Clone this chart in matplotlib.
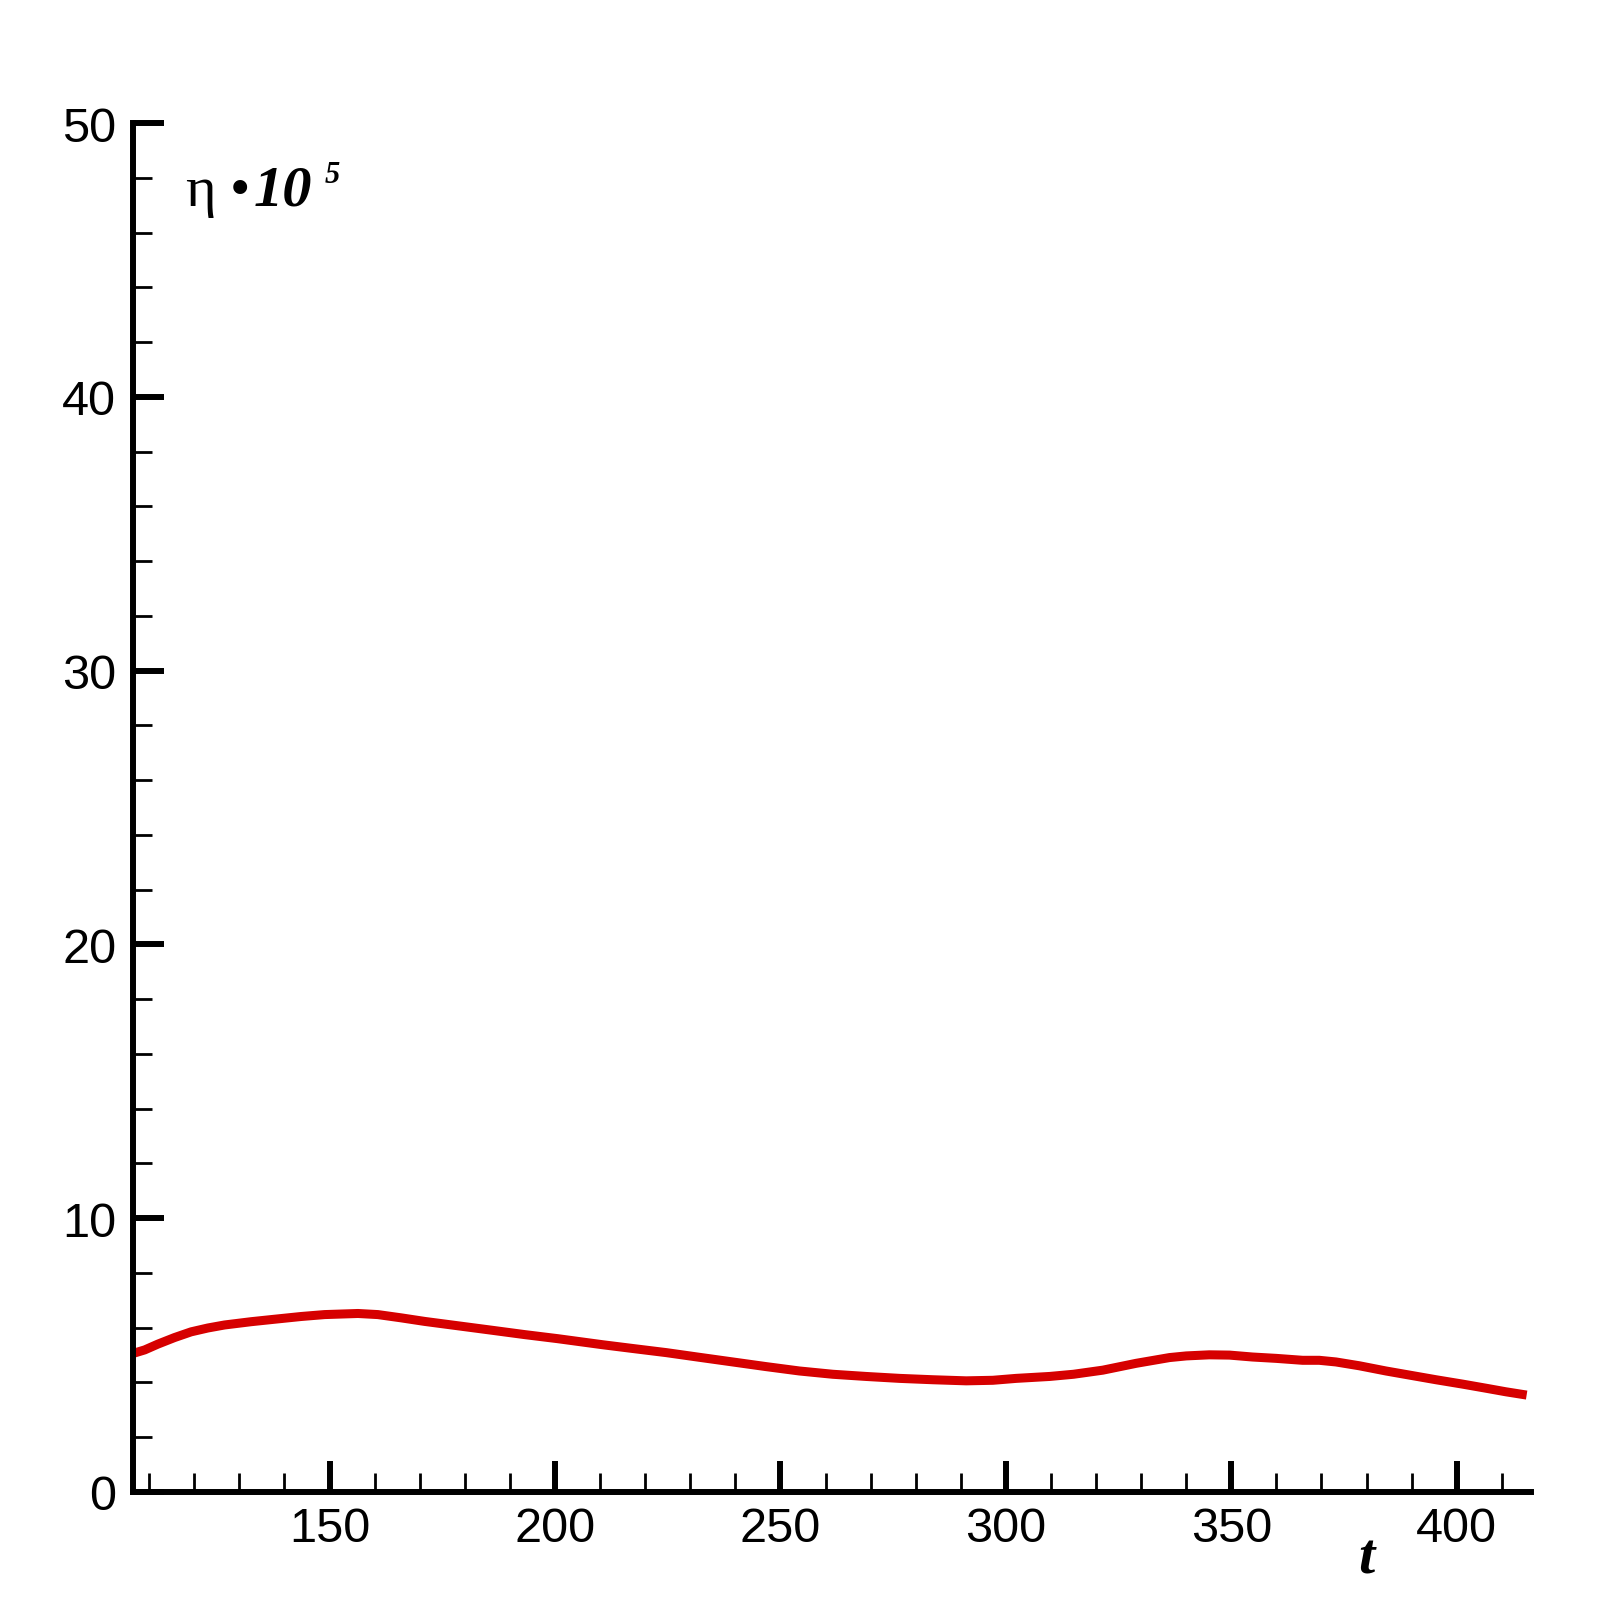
import matplotlib
matplotlib.use("Agg")
import matplotlib.pyplot as plt
from matplotlib.ticker import FixedLocator

# ---- data ----
t_vals = [106.4, 109.0, 111.9, 115.6, 119.3, 123.0, 126.7, 132.6, 137.8, 143.7,
          148.9, 156.3, 160.7, 165.9, 171.1, 178.5, 185.9, 193.2, 200.6, 210.5,
          217.3, 224.7, 232.0, 239.4, 246.8, 254.2, 261.6, 269.0, 276.4, 283.8,
          291.2, 297.1, 302.3, 309.7, 315.0, 321.5, 328.9, 336.3, 340.0, 345.1,
          349.6, 354.7, 360.0, 365.8, 369.5, 373.2, 378.4, 384.3, 389.5, 395.4,
          401.3, 406.5, 410.9, 415.5]
eta_vals = [5.06, 5.19, 5.40, 5.64, 5.85, 5.99, 6.10, 6.22, 6.31, 6.41,
            6.48, 6.52, 6.48, 6.36, 6.23, 6.07, 5.91, 5.75, 5.60, 5.38,
            5.24, 5.09, 4.92, 4.75, 4.58, 4.42, 4.30, 4.22, 4.15, 4.10,
            4.06, 4.08, 4.15, 4.22, 4.30, 4.45, 4.70, 4.91, 4.97, 5.01,
            5.00, 4.93, 4.88, 4.81, 4.81, 4.75, 4.61, 4.42, 4.27, 4.10,
            3.94, 3.79, 3.66, 3.54]
x_major = [150, 200, 250, 300, 350, 400]
y_major = [0, 10, 20, 30, 40, 50]

W = H = 1606
fig = plt.figure(figsize=(W / 100, H / 100), dpi=100)
ax = fig.add_axes([133 / W, 1 - 1493 / H, (1530.7 - 133) / W, (1493 - 124) / H])

ax.plot(t_vals, eta_vals, color="#d60000", lw=6.5, solid_capstyle="butt",
        solid_joinstyle="round")

ax.set_xlim(106.4, 416.4)
ax.set_ylim(0, 50)

for s in ("top", "right"):
    ax.spines[s].set_visible(False)
for s in ("left", "bottom"):
    ax.spines[s].set_linewidth(4.3)
    ax.spines[s].set_color("black")

ax.xaxis.set_major_locator(FixedLocator(x_major))
ax.yaxis.set_major_locator(FixedLocator(y_major))
ax.xaxis.set_minor_locator(FixedLocator([v for v in range(110, 420, 10) if v % 50 != 0]))
ax.yaxis.set_minor_locator(FixedLocator([v for v in range(2, 50, 2) if v % 10 != 0]))

ax.tick_params(which="major", direction="in", length=22, width=4.3, pad=10,
               labelsize=35, colors="black")
ax.tick_params(axis="y", which="major", pad=12)
ax.tick_params(which="minor", direction="in", length=13.5, width=2.0)
ax.tick_params(top=False, right=False, which="both")
for lab in ax.get_xticklabels() + ax.get_yticklabels():
    lab.set_family("Liberation Sans")

# y label  eta * 10^5
serif = "Liberation Serif"
fig.text(185 / W, 1 - 206 / H, "η", family=serif, fontsize=42, va="baseline", ha="left")
fig.text(230 / W, 1 - 206 / H, "•", family=serif, fontsize=42, va="baseline", ha="left")
fig.text(254 / W, 1 - 206 / H, "10", family=serif, fontsize=42, fontweight="bold",
         fontstyle="italic", va="baseline", ha="left")
fig.text(325 / W, 1 - 183 / H, "5", family=serif, fontsize=22, fontweight="bold",
         fontstyle="italic", va="baseline", ha="left")

# x label t
fig.text(1366 / W, 1 - 1574 / H, "t", family=serif, fontsize=42, fontweight="bold",
         fontstyle="italic", va="baseline", ha="center")

fig.savefig("out.png", dpi=100, facecolor="white")
